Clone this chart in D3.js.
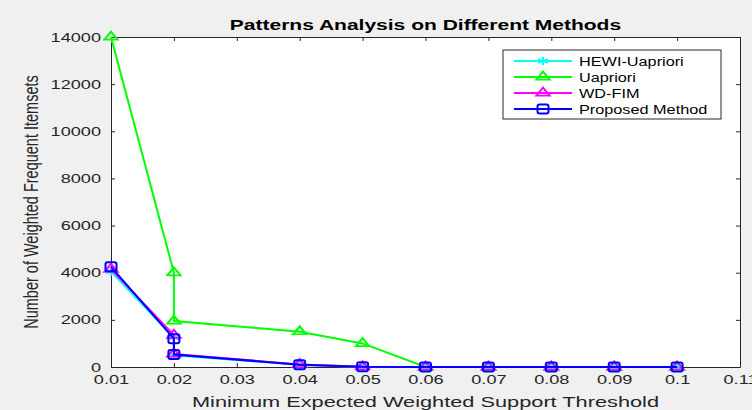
<!DOCTYPE html>
<html>
<head>
<meta charset="utf-8">
<script src="https://cdn.jsdelivr.net/npm/d3@7"></script>
<style>
  body { margin: 0; background: #f0f0f0; }
  svg { display: block; font-family: "Liberation Sans", Arial, sans-serif; }
</style>
</head>
<body>
<div id="chart"></div>
<script>
// thresholds (0.02 appears twice in the source figure)
var thresholds = [0.01, 0.02, 0.02, 0.04, 0.05, 0.06, 0.07, 0.08, 0.09, 0.1];
var hewiValues     = [4050, 1250, 500, 90, 10, 0, 0, 0, 0, 0];
var uaprioriValues = [14000, 4000, 1950, 1500, 1000, 0, 0, 0, 0, 0];
var wdfimValues    = [4150, 1350, 550, 110, 15, 0, 0, 0, 0, 0];
var proposedValues = [4250, 1200, 530, 100, 10, 0, 0, 0, 0, 0];
var xTicks = [0.01, 0.02, 0.03, 0.04, 0.05, 0.06, 0.07, 0.08, 0.09, 0.1, 0.11];
var yTicks = [0, 2000, 4000, 6000, 8000, 10000, 12000, 14000];

var series = [
  { name: "HEWI-Uapriori", values: hewiValues, color: "#00ffff", marker: "star" },
  { name: "Uapriori", values: uaprioriValues, color: "#00ff00", marker: "triangle" },
  { name: "WD-FIM", values: wdfimValues, color: "#ff00ff", marker: "triangle" },
  { name: "Proposed Method", values: proposedValues, color: "#0000ff", marker: "square" }
];

var width = 752, height = 410;
var margin = { top: 37, right: 12, bottom: 43, left: 111 };

var svg = d3.select("#chart").append("svg")
  .attr("width", width)
  .attr("height", height);

svg.append("rect").attr("width", width).attr("height", height).attr("fill", "#f0f0f0");

var x = d3.scaleLinear().domain([0.01, 0.11]).range([margin.left, width - margin.right]);
var y = d3.scaleLinear().domain([0, 14000]).range([height - margin.bottom, margin.top]);

// the source figure is stretched sideways, so widen the glyphs
function stretch(sel, k) {
  sel.each(function() {
    var len = this.getComputedTextLength();
    d3.select(this).attr("textLength", len * k).attr("lengthAdjust", "spacingAndGlyphs");
  });
}

// plot background
svg.append("rect")
  .attr("x", x(0.01)).attr("y", y(14000))
  .attr("width", x(0.11) - x(0.01)).attr("height", y(0) - y(14000))
  .attr("fill", "#fff");

var axisColor = "#262626";

function styleAxis(g) {
  g.select(".domain").attr("stroke", axisColor);
  g.selectAll(".tick line").attr("stroke", axisColor);
  g.selectAll(".tick text").attr("fill", axisColor).attr("font-size", 12.5);
}

var fmtX = function(d) { return d3.format(".2~f")(d); };

svg.append("g")
  .attr("transform", "translate(0," + y(0) + ")")
  .call(d3.axisBottom(x).tickValues(xTicks).tickFormat(fmtX).tickSizeInner(-4).tickSizeOuter(0).tickPadding(8))
  .call(styleAxis)
  .call(function(g) { stretch(g.selectAll(".tick text"), 1.45); });

svg.append("g")
  .attr("transform", "translate(0," + y(14000) + ")")
  .call(d3.axisTop(x).tickValues(xTicks).tickFormat("").tickSizeInner(-4).tickSizeOuter(0))
  .call(styleAxis);

svg.append("g")
  .attr("transform", "translate(" + x(0.01) + ",0)")
  .call(d3.axisLeft(y).tickValues(yTicks).tickFormat(d3.format("d")).tickSizeInner(-4).tickSizeOuter(0).tickPadding(10))
  .call(styleAxis)
  .call(function(g) { stretch(g.selectAll(".tick text"), 1.45); });

svg.append("g")
  .attr("transform", "translate(" + x(0.11) + ",0)")
  .call(d3.axisRight(y).tickValues(yTicks).tickFormat("").tickSizeInner(-4).tickSizeOuter(0))
  .call(styleAxis);

// series
var line = d3.line()
  .x(function(d) { return x(d[0]); })
  .y(function(d) { return y(d[1]); });

function drawMarker(g, type, cx, cy, color) {
  if (type === "triangle") {
    g.append("path")
      .attr("d", d3.symbol().type(d3.symbolTriangle).size(45)())
      .attr("transform", "translate(" + cx + "," + cy + ") scale(1.3,0.9)")
      .attr("fill", "none").attr("stroke", color).attr("stroke-width", 1.8);
  } else if (type === "square") {
    g.append("rect")
      .attr("x", cx - 5.5).attr("y", cy - 4.5).attr("width", 11).attr("height", 9)
      .attr("rx", 2)
      .attr("fill", "none").attr("stroke", color).attr("stroke-width", 2);
  } else {
    g.append("path")
      .attr("d", d3.symbol().type(d3.symbolAsterisk).size(50)())
      .attr("transform", "translate(" + cx + "," + cy + ") scale(1.3,1)")
      .attr("fill", "none").attr("stroke", color).attr("stroke-width", 1.5);
  }
}

series.forEach(function(s) {
  var pts = thresholds.map(function(t, i) { return [t, s.values[i]]; });
  var g = svg.append("g");
  g.append("path")
    .datum(pts)
    .attr("d", line)
    .attr("fill", "none")
    .attr("stroke", s.color)
    .attr("stroke-width", 2);
  pts.forEach(function(p) { drawMarker(g, s.marker, x(p[0]), y(p[1]), s.color); });
});

// title + labels
var cx = (x(0.01) + x(0.11)) / 2;

svg.append("text")
  .attr("x", cx).attr("y", 30)
  .attr("text-anchor", "middle")
  .attr("font-size", 14).attr("font-weight", "bold").attr("fill", "#000")
  .text("Patterns Analysis on Different Methods")
  .call(stretch, 1.5);

svg.append("text")
  .attr("x", cx).attr("y", 407)
  .attr("text-anchor", "middle")
  .attr("font-size", 14.5).attr("fill", axisColor)
  .text("Minimum Expected Weighted Support Threshold")
  .call(stretch, 1.5);

svg.append("text")
  .attr("transform", "translate(38," + ((y(0) + y(14000)) / 2) + ") scale(1.35,1) rotate(-90)")
  .attr("text-anchor", "middle")
  .attr("font-size", 14.5).attr("fill", axisColor)
  .text("Number of Weighted Frequent Itemsets");

// legend
var lg = svg.append("g").attr("transform", "translate(503,50)");
lg.append("rect").attr("width", 218).attr("height", 69)
  .attr("fill", "#fff").attr("stroke", axisColor).attr("stroke-width", 1);
series.forEach(function(s, i) {
  var ly = 11 + i * 16;
  lg.append("line").attr("x1", 11).attr("x2", 69).attr("y1", ly).attr("y2", ly)
    .attr("stroke", s.color).attr("stroke-width", 2);
  drawMarker(lg, s.marker, 40, ly, s.color);
  lg.append("text").attr("x", 76).attr("y", ly + 4.5)
    .attr("font-size", 12.5).attr("fill", "#000").text(s.name)
    .call(stretch, 1.3);
});
</script>
</body>
</html>
